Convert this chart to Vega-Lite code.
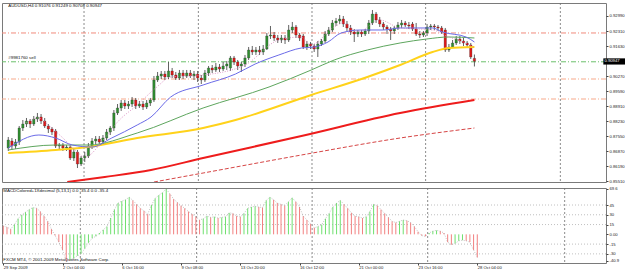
{
"$schema": "https://vega.github.io/schema/vega-lite/v6.json",
"background": "white",
"padding": {"left": 1, "top": 2, "right": 0, "bottom": 0},
"spacing": 1,
"config": {
  "view": {"stroke": "#7a7a7a", "strokeWidth": 1},
  "font": "Liberation Sans",
  "axis": {"labelFont": "Liberation Sans", "labelFontSize": 4.2, "labelColor": "#222", "tickColor": "#444", "tickSize": 2, "grid": false, "domain": false, "labelPadding": 1, "labelOverlap": false},
  "text": {"font": "Liberation Sans", "fontSize": 4.4}
},
"datasets": {
  "candles": [
    {"i":0,"o":0.87023,"h":0.87521,"l":0.86888,"c":0.87385},
    {"i":1,"o":0.87340,"h":0.87475,"l":0.86933,"c":0.87114},
    {"i":2,"o":0.87114,"h":0.87430,"l":0.86978,"c":0.87294},
    {"i":3,"o":0.87294,"h":0.88018,"l":0.87159,"c":0.87927},
    {"i":4,"o":0.87927,"h":0.88289,"l":0.87792,"c":0.88108},
    {"i":5,"o":0.88108,"h":0.88380,"l":0.87972,"c":0.88244},
    {"i":6,"o":0.88244,"h":0.88334,"l":0.87927,"c":0.88108},
    {"i":7,"o":0.88108,"h":0.88470,"l":0.88018,"c":0.88334},
    {"i":8,"o":0.88334,"h":0.88606,"l":0.88199,"c":0.88425},
    {"i":9,"o":0.88425,"h":0.88560,"l":0.88108,"c":0.88244},
    {"i":10,"o":0.88244,"h":0.88380,"l":0.87927,"c":0.88018},
    {"i":11,"o":0.88018,"h":0.88108,"l":0.87701,"c":0.87882},
    {"i":12,"o":0.87882,"h":0.87972,"l":0.87611,"c":0.87746},
    {"i":13,"o":0.87792,"h":0.87882,"l":0.87023,"c":0.87114},
    {"i":14,"o":0.87114,"h":0.87249,"l":0.86978,"c":0.87159},
    {"i":15,"o":0.87159,"h":0.87249,"l":0.86888,"c":0.87023},
    {"i":16,"o":0.87023,"h":0.87159,"l":0.86888,"c":0.87068},
    {"i":17,"o":0.87068,"h":0.87159,"l":0.86481,"c":0.86571},
    {"i":18,"o":0.86571,"h":0.86978,"l":0.86436,"c":0.86842},
    {"i":19,"o":0.86842,"h":0.86933,"l":0.86119,"c":0.86300},
    {"i":20,"o":0.86300,"h":0.86662,"l":0.86210,"c":0.86571},
    {"i":21,"o":0.86571,"h":0.86842,"l":0.86390,"c":0.86662},
    {"i":22,"o":0.86662,"h":0.87249,"l":0.86571,"c":0.87114},
    {"i":23,"o":0.87114,"h":0.87475,"l":0.86978,"c":0.87340},
    {"i":24,"o":0.87340,"h":0.87565,"l":0.87204,"c":0.87430},
    {"i":25,"o":0.87430,"h":0.87565,"l":0.87204,"c":0.87294},
    {"i":26,"o":0.87294,"h":0.87611,"l":0.87159,"c":0.87475},
    {"i":27,"o":0.87475,"h":0.87882,"l":0.87385,"c":0.87746},
    {"i":28,"o":0.87746,"h":0.88018,"l":0.87611,"c":0.87927},
    {"i":29,"o":0.87927,"h":0.88741,"l":0.87792,"c":0.88606},
    {"i":30,"o":0.88606,"h":0.89012,"l":0.88515,"c":0.88832},
    {"i":31,"o":0.88832,"h":0.89193,"l":0.88696,"c":0.89058},
    {"i":32,"o":0.89058,"h":0.89193,"l":0.88786,"c":0.88922},
    {"i":33,"o":0.88922,"h":0.89148,"l":0.88786,"c":0.89012},
    {"i":34,"o":0.89012,"h":0.89329,"l":0.88877,"c":0.89193},
    {"i":35,"o":0.89193,"h":0.89284,"l":0.88786,"c":0.88922},
    {"i":36,"o":0.88922,"h":0.89148,"l":0.88832,"c":0.89012},
    {"i":37,"o":0.89012,"h":0.89148,"l":0.88741,"c":0.88877},
    {"i":38,"o":0.88877,"h":0.89193,"l":0.88786,"c":0.89058},
    {"i":39,"o":0.89058,"h":0.89284,"l":0.88922,"c":0.89193},
    {"i":40,"o":0.89193,"h":0.90278,"l":0.89103,"c":0.90097},
    {"i":41,"o":0.90097,"h":0.90459,"l":0.90007,"c":0.90278},
    {"i":42,"o":0.90278,"h":0.90504,"l":0.90142,"c":0.90368},
    {"i":43,"o":0.90368,"h":0.90504,"l":0.90097,"c":0.90233},
    {"i":44,"o":0.90233,"h":0.90911,"l":0.90142,"c":0.90504},
    {"i":45,"o":0.90504,"h":0.90640,"l":0.90188,"c":0.90323},
    {"i":46,"o":0.90323,"h":0.90459,"l":0.90097,"c":0.90188},
    {"i":47,"o":0.90188,"h":0.90549,"l":0.90097,"c":0.90414},
    {"i":48,"o":0.90414,"h":0.90549,"l":0.90142,"c":0.90278},
    {"i":49,"o":0.90278,"h":0.90549,"l":0.90188,"c":0.90414},
    {"i":50,"o":0.90414,"h":0.90549,"l":0.90188,"c":0.90278},
    {"i":51,"o":0.90278,"h":0.90504,"l":0.90097,"c":0.90368},
    {"i":52,"o":0.90368,"h":0.90504,"l":0.90007,"c":0.90188},
    {"i":53,"o":0.90188,"h":0.90323,"l":0.89916,"c":0.90097},
    {"i":54,"o":0.90097,"h":0.90549,"l":0.90007,"c":0.90414},
    {"i":55,"o":0.90414,"h":0.90730,"l":0.90278,"c":0.90640},
    {"i":56,"o":0.90640,"h":0.90775,"l":0.90414,"c":0.90549},
    {"i":57,"o":0.90549,"h":0.90866,"l":0.90459,"c":0.90685},
    {"i":58,"o":0.90685,"h":0.90820,"l":0.90459,"c":0.90594},
    {"i":59,"o":0.90594,"h":0.90911,"l":0.90504,"c":0.90730},
    {"i":60,"o":0.90730,"h":0.90956,"l":0.90549,"c":0.90820},
    {"i":61,"o":0.90640,"h":0.91182,"l":0.90504,"c":0.91092},
    {"i":62,"o":0.91092,"h":0.91182,"l":0.90775,"c":0.90911},
    {"i":63,"o":0.90911,"h":0.91001,"l":0.90549,"c":0.90730},
    {"i":64,"o":0.90730,"h":0.90911,"l":0.90459,"c":0.90820},
    {"i":65,"o":0.90820,"h":0.91227,"l":0.90685,"c":0.91092},
    {"i":66,"o":0.91092,"h":0.91589,"l":0.91001,"c":0.91453},
    {"i":67,"o":0.91453,"h":0.91634,"l":0.91227,"c":0.91363},
    {"i":68,"o":0.91363,"h":0.91589,"l":0.91227,"c":0.91453},
    {"i":69,"o":0.91453,"h":0.91634,"l":0.91227,"c":0.91363},
    {"i":70,"o":0.91363,"h":0.91679,"l":0.91227,"c":0.91498},
    {"i":71,"o":0.91498,"h":0.92222,"l":0.91453,"c":0.92086},
    {"i":72,"o":0.92086,"h":0.92538,"l":0.91950,"c":0.92131},
    {"i":73,"o":0.92131,"h":0.92267,"l":0.91860,"c":0.91996},
    {"i":74,"o":0.91996,"h":0.92131,"l":0.91770,"c":0.91905},
    {"i":75,"o":0.91905,"h":0.92131,"l":0.91770,"c":0.91996},
    {"i":76,"o":0.91996,"h":0.92131,"l":0.91724,"c":0.91905},
    {"i":77,"o":0.91905,"h":0.92583,"l":0.91815,"c":0.92357},
    {"i":78,"o":0.92357,"h":0.92719,"l":0.92222,"c":0.92493},
    {"i":79,"o":0.92493,"h":0.92583,"l":0.91996,"c":0.92131},
    {"i":80,"o":0.92131,"h":0.92222,"l":0.91860,"c":0.91996},
    {"i":81,"o":0.92086,"h":0.92176,"l":0.91498,"c":0.91589},
    {"i":82,"o":0.91589,"h":0.91860,"l":0.91453,"c":0.91724},
    {"i":83,"o":0.91724,"h":0.91815,"l":0.91498,"c":0.91634},
    {"i":84,"o":0.91634,"h":0.91724,"l":0.91363,"c":0.91498},
    {"i":85,"o":0.91498,"h":0.91860,"l":0.91137,"c":0.91724},
    {"i":86,"o":0.91724,"h":0.91950,"l":0.91634,"c":0.91860},
    {"i":87,"o":0.91860,"h":0.92312,"l":0.91770,"c":0.92176},
    {"i":88,"o":0.92176,"h":0.92493,"l":0.92086,"c":0.92357},
    {"i":89,"o":0.92357,"h":0.92809,"l":0.92267,"c":0.92674},
    {"i":90,"o":0.92674,"h":0.92900,"l":0.92538,"c":0.92764},
    {"i":91,"o":0.92764,"h":0.93035,"l":0.92628,"c":0.92854},
    {"i":92,"o":0.92854,"h":0.92990,"l":0.92493,"c":0.92628},
    {"i":93,"o":0.92628,"h":0.92764,"l":0.92312,"c":0.92448},
    {"i":94,"o":0.92448,"h":0.92583,"l":0.92131,"c":0.92267},
    {"i":95,"o":0.92267,"h":0.92402,"l":0.91815,"c":0.92176},
    {"i":96,"o":0.92176,"h":0.92357,"l":0.92041,"c":0.92267},
    {"i":97,"o":0.92267,"h":0.92357,"l":0.92041,"c":0.92176},
    {"i":98,"o":0.92176,"h":0.92402,"l":0.92086,"c":0.92312},
    {"i":99,"o":0.92312,"h":0.92809,"l":0.92176,"c":0.92674},
    {"i":100,"o":0.92674,"h":0.93261,"l":0.92583,"c":0.93080},
    {"i":101,"o":0.93080,"h":0.93171,"l":0.92674,"c":0.92809},
    {"i":102,"o":0.92809,"h":0.92945,"l":0.92493,"c":0.92628},
    {"i":103,"o":0.92628,"h":0.92719,"l":0.92357,"c":0.92493},
    {"i":104,"o":0.92493,"h":0.92583,"l":0.92176,"c":0.92402},
    {"i":105,"o":0.92402,"h":0.92493,"l":0.91905,"c":0.92312},
    {"i":106,"o":0.92312,"h":0.92538,"l":0.92176,"c":0.92448},
    {"i":107,"o":0.92448,"h":0.92719,"l":0.92357,"c":0.92583},
    {"i":108,"o":0.92583,"h":0.92809,"l":0.92448,"c":0.92674},
    {"i":109,"o":0.92674,"h":0.92764,"l":0.92493,"c":0.92583},
    {"i":110,"o":0.92583,"h":0.92719,"l":0.92402,"c":0.92538},
    {"i":111,"o":0.92628,"h":0.92719,"l":0.92312,"c":0.92402},
    {"i":112,"o":0.92402,"h":0.92674,"l":0.92086,"c":0.92176},
    {"i":113,"o":0.92176,"h":0.92312,"l":0.91996,"c":0.92131},
    {"i":114,"o":0.92131,"h":0.92312,"l":0.92041,"c":0.92222},
    {"i":115,"o":0.92222,"h":0.92628,"l":0.92086,"c":0.92493},
    {"i":116,"o":0.92493,"h":0.92628,"l":0.92357,"c":0.92538},
    {"i":117,"o":0.92538,"h":0.92628,"l":0.92357,"c":0.92493},
    {"i":118,"o":0.92493,"h":0.92583,"l":0.92312,"c":0.92448},
    {"i":119,"o":0.92448,"h":0.92538,"l":0.92176,"c":0.92267},
    {"i":120,"o":0.92357,"h":0.92448,"l":0.91363,"c":0.91453},
    {"i":121,"o":0.91453,"h":0.91724,"l":0.91363,"c":0.91589},
    {"i":122,"o":0.91589,"h":0.91905,"l":0.91544,"c":0.91770},
    {"i":123,"o":0.91770,"h":0.92086,"l":0.91679,"c":0.91950},
    {"i":124,"o":0.91950,"h":0.92086,"l":0.91724,"c":0.91860},
    {"i":125,"o":0.91860,"h":0.91996,"l":0.91634,"c":0.91770},
    {"i":126,"o":0.91770,"h":0.91860,"l":0.91544,"c":0.91679},
    {"i":127,"o":0.91679,"h":0.91770,"l":0.91046,"c":0.91137},
    {"i":128,"o":0.91076,"h":0.91249,"l":0.90708,"c":0.90947}
  ],
  "ma": [
    {"s":"blue","i":0,"v":0.87023},{"s":"blue","i":8.4,"v":0.87611},{"s":"blue","i":13,"v":0.87475},{"s":"blue","i":17.6,"v":0.87159},{"s":"blue","i":23,"v":0.87068},{"s":"blue","i":28.4,"v":0.87475},{"s":"blue","i":35.4,"v":0.88063},{"s":"blue","i":39.2,"v":0.88425},{"s":"blue","i":44.6,"v":0.89329},{"s":"blue","i":53.5,"v":0.89871},{"s":"blue","i":62.4,"v":0.90368},{"s":"blue","i":67.8,"v":0.90820},{"s":"blue","i":74.3,"v":0.91227},{"s":"blue","i":80.5,"v":0.91544},{"s":"blue","i":84,"v":0.91589},{"s":"blue","i":87.8,"v":0.91815},{"s":"blue","i":91.4,"v":0.92222},{"s":"blue","i":96.8,"v":0.92357},{"s":"blue","i":103,"v":0.92357},{"s":"blue","i":107.6,"v":0.92448},{"s":"blue","i":116.5,"v":0.92448},{"s":"blue","i":119.2,"v":0.92267},{"s":"blue","i":125.7,"v":0.92041},{"s":"blue","i":128,"v":0.91815},
    {"s":"pink","i":4.9,"v":0.88154},{"s":"pink","i":8.4,"v":0.88380},{"s":"pink","i":11,"v":0.88063},{"s":"pink","i":15,"v":0.87475},{"s":"pink","i":18.4,"v":0.86933},{"s":"pink","i":21,"v":0.86617},{"s":"pink","i":26.5,"v":0.87475},{"s":"pink","i":30,"v":0.88199},{"s":"pink","i":35.4,"v":0.88967},{"s":"pink","i":40.8,"v":0.89781},{"s":"pink","i":44.6,"v":0.90233},{"s":"pink","i":53.5,"v":0.90323},{"s":"pink","i":65,"v":0.90775},{"s":"pink","i":74.3,"v":0.91905},{"s":"pink","i":80.5,"v":0.92041},{"s":"pink","i":83,"v":0.91679},{"s":"pink","i":89.5,"v":0.92493},{"s":"pink","i":92,"v":0.92674},{"s":"pink","i":96,"v":0.92267},{"s":"pink","i":102,"v":0.92809},{"s":"pink","i":107.6,"v":0.92448},{"s":"pink","i":116.5,"v":0.92357},{"s":"pink","i":121,"v":0.92041},{"s":"pink","i":125,"v":0.91815},{"s":"pink","i":128,"v":0.91544},
    {"s":"green","i":0,"v":0.86933},{"s":"green","i":13,"v":0.87159},{"s":"green","i":22,"v":0.87159},{"s":"green","i":35.4,"v":0.87701},{"s":"green","i":53.5,"v":0.88832},{"s":"green","i":71.6,"v":0.89781},{"s":"green","i":83.2,"v":0.90549},{"s":"green","i":89.5,"v":0.91001},{"s":"green","i":98.6,"v":0.91453},{"s":"green","i":107.6,"v":0.91770},{"s":"green","i":114.9,"v":0.91950},{"s":"green","i":121,"v":0.92041},{"s":"green","i":128,"v":0.91996},
    {"s":"yellow","i":0,"v":0.86797},{"s":"yellow","i":13,"v":0.86933},{"s":"yellow","i":22,"v":0.87068},{"s":"yellow","i":35.4,"v":0.87475},{"s":"yellow","i":53.5,"v":0.87927},{"s":"yellow","i":62.4,"v":0.88289},{"s":"yellow","i":83.2,"v":0.89419},{"s":"yellow","i":98.6,"v":0.90233},{"s":"yellow","i":107.6,"v":0.90775},{"s":"yellow","i":116.5,"v":0.91363},{"s":"yellow","i":121,"v":0.91544},{"s":"yellow","i":128,"v":0.91589},
    {"s":"red","i":16.2,"v":0.85487},{"s":"red","i":26.5,"v":0.85713},{"s":"red","i":39.2,"v":0.86029},{"s":"red","i":53.5,"v":0.86571},{"s":"red","i":80.5,"v":0.87566},{"s":"red","i":107.6,"v":0.88605},{"s":"red","i":128,"v":0.89193},
    {"s":"reddash","i":40,"v":0.85487},{"s":"reddash","i":53.5,"v":0.85893},{"s":"reddash","i":80.5,"v":0.86707},{"s":"reddash","i":107.6,"v":0.87475},{"s":"reddash","i":128,"v":0.87927}
  ],
  "levels": [
    {"kind":"red","p":0.92222},
    {"kind":"sell","p":0.90920},
    {"kind":"orange","p":0.90142},
    {"kind":"orange","p":0.89238}
  ],
  "seps": [{"i":20.8},{"i":52.2},{"i":83.4},{"i":114.6},{"i":151.6}],
  "macdgrid": [{"v":45},{"v":30},{"v":15},{"v":-15},{"v":-30}],
  "macd": [
    {"i":0,"v":13,"d":"down"},{"i":1,"v":11,"d":"down"},{"i":2,"v":8,"d":"down"},{"i":3,"v":15,"d":"up"},{"i":4,"v":24,"d":"up"},{"i":5,"v":30,"d":"up"},{"i":6,"v":34,"d":"up"},{"i":7,"v":38,"d":"up"},{"i":8,"v":41,"d":"up"},{"i":9,"v":40,"d":"down"},
    {"i":10,"v":35,"d":"down"},{"i":11,"v":28,"d":"down"},{"i":12,"v":20,"d":"down"},{"i":13,"v":8,"d":"down"},{"i":14,"v":-2,"d":"down"},{"i":15,"v":-12,"d":"down"},{"i":16,"v":-24,"d":"down"},{"i":17,"v":-40.9,"d":"down"},{"i":18,"v":-39,"d":"up"},{"i":19,"v":-37,"d":"up"},
    {"i":20,"v":-33,"d":"up"},{"i":21,"v":-30,"d":"up"},{"i":22,"v":-22,"d":"up"},{"i":23,"v":-13,"d":"up"},{"i":24,"v":-6,"d":"up"},{"i":25,"v":-3,"d":"up"},{"i":26,"v":2,"d":"up"},{"i":27,"v":7,"d":"up"},{"i":28,"v":12,"d":"up"},{"i":29,"v":25,"d":"up"},
    {"i":30,"v":38,"d":"up"},{"i":31,"v":48,"d":"up"},{"i":32,"v":51,"d":"up"},{"i":33,"v":53,"d":"up"},{"i":34,"v":57,"d":"up"},{"i":35,"v":52,"d":"down"},{"i":36,"v":46,"d":"down"},{"i":37,"v":40,"d":"down"},{"i":38,"v":36,"d":"down"},{"i":39,"v":31,"d":"down"},
    {"i":40,"v":45,"d":"up"},{"i":41,"v":55,"d":"up"},{"i":42,"v":60,"d":"up"},{"i":43,"v":64,"d":"up"},{"i":44,"v":69.6,"d":"up"},{"i":45,"v":62,"d":"down"},{"i":46,"v":54,"d":"down"},{"i":47,"v":49,"d":"down"},{"i":48,"v":44,"d":"down"},{"i":49,"v":40,"d":"down"},
    {"i":50,"v":35,"d":"down"},{"i":51,"v":31,"d":"down"},{"i":52,"v":27,"d":"down"},{"i":53,"v":22,"d":"down"},{"i":54,"v":24,"d":"up"},{"i":55,"v":28,"d":"up"},{"i":56,"v":26,"d":"down"},{"i":57,"v":27,"d":"up"},{"i":58,"v":25,"d":"down"},{"i":59,"v":26,"d":"up"},
    {"i":60,"v":27,"d":"up"},{"i":61,"v":33,"d":"up"},{"i":62,"v":32,"d":"down"},{"i":63,"v":28,"d":"down"},{"i":64,"v":27,"d":"down"},{"i":65,"v":32,"d":"up"},{"i":66,"v":40,"d":"up"},{"i":67,"v":42,"d":"up"},{"i":68,"v":43,"d":"up"},{"i":69,"v":42,"d":"down"},
    {"i":70,"v":41,"d":"down"},{"i":71,"v":52,"d":"up"},{"i":72,"v":57,"d":"up"},{"i":73,"v":53,"d":"down"},{"i":74,"v":48,"d":"down"},{"i":75,"v":46,"d":"down"},{"i":76,"v":44,"d":"down"},{"i":77,"v":50,"d":"up"},{"i":78,"v":56,"d":"up"},{"i":79,"v":50,"d":"down"},
    {"i":80,"v":42,"d":"down"},{"i":81,"v":28,"d":"down"},{"i":82,"v":22,"d":"down"},{"i":83,"v":16,"d":"down"},{"i":84,"v":10,"d":"down"},{"i":85,"v":12,"d":"up"},{"i":86,"v":15,"d":"up"},{"i":87,"v":24,"d":"up"},{"i":88,"v":32,"d":"up"},{"i":89,"v":42,"d":"up"},
    {"i":90,"v":48,"d":"up"},{"i":91,"v":52,"d":"up"},{"i":92,"v":46,"d":"down"},{"i":93,"v":40,"d":"down"},{"i":94,"v":33,"d":"down"},{"i":95,"v":28,"d":"down"},{"i":96,"v":27,"d":"down"},{"i":97,"v":25,"d":"down"},{"i":98,"v":27,"d":"up"},{"i":99,"v":35,"d":"up"},
    {"i":100,"v":46,"d":"up"},{"i":101,"v":44,"d":"down"},{"i":102,"v":38,"d":"down"},{"i":103,"v":32,"d":"down"},{"i":104,"v":26,"d":"down"},{"i":105,"v":20,"d":"down"},{"i":106,"v":18,"d":"down"},{"i":107,"v":20,"d":"up"},{"i":108,"v":22,"d":"up"},{"i":109,"v":21,"d":"down"},
    {"i":110,"v":18,"d":"down"},{"i":111,"v":12,"d":"down"},{"i":112,"v":4,"d":"down"},{"i":113,"v":-2,"d":"down"},{"i":114,"v":-3,"d":"down"},{"i":115,"v":2,"d":"up"},{"i":116,"v":5,"d":"up"},{"i":117,"v":6,"d":"up"},{"i":118,"v":5,"d":"down"},{"i":119,"v":2,"d":"down"},
    {"i":120,"v":-12,"d":"down"},{"i":121,"v":-16,"d":"down"},{"i":122,"v":-14,"d":"up"},{"i":123,"v":-10,"d":"up"},{"i":124,"v":-9,"d":"up"},{"i":125,"v":-10,"d":"down"},{"i":126,"v":-12,"d":"down"},{"i":127,"v":-24,"d":"down"},{"i":128,"v":-35.4,"d":"down"}
  ]
},
"vconcat": [
  {
    "width": 604, "height": 179,
    "layer": [
      {
        "data": {"name": "seps"},
        "mark": {"type": "rule", "color": "#6e6e6e", "strokeWidth": 0.8, "strokeDash": [2, 2]},
        "encoding": {"x": {"field": "i", "type": "quantitative", "scale": {"domain": [-0.35, 162.76], "nice": false, "zero": false}, "axis": null}}
      },
      {
        "data": {"name": "levels"},
        "mark": {"type": "rule", "strokeWidth": 1, "strokeDash": [5, 2, 1, 2]},
        "encoding": {
          "y": {"field": "p", "type": "quantitative", "scale": {"domain": [0.85487, 0.93577], "nice": false, "zero": false},
                "axis": {"orient": "right", "title": null, "values": [0.9299, 0.9231, 0.9163, 0.9027, 0.8959, 0.8891, 0.8823, 0.8755, 0.8687, 0.8619, 0.8551], "format": ".5f"}},
          "color": {"condition": [{"test": "datum.kind == 'sell'", "value": "#6cc06c"}, {"test": "datum.kind == 'red'", "value": "#f08a7c"}], "value": "#f7a98a"}
        }
      },
      {
        "data": {"name": "candles"},
        "mark": {"type": "rule", "color": "#3a3a3a", "strokeWidth": 0.8},
        "encoding": {
          "x": {"field": "i", "type": "quantitative", "axis": null},
          "y": {"field": "l", "type": "quantitative", "axis": {"orient": "right", "title": null, "values": [0.9299, 0.9231, 0.9163, 0.9027, 0.8959, 0.8891, 0.8823, 0.8755, 0.8687, 0.8619, 0.8551], "format": ".5f"}},
          "y2": {"field": "h"}
        }
      },
      {
        "data": {"name": "candles"},
        "mark": {"type": "bar", "size": 2.4, "stroke": "#333", "strokeWidth": 0.3},
        "encoding": {
          "x": {"field": "i", "type": "quantitative", "axis": null},
          "y": {"field": "o", "type": "quantitative", "axis": {"orient": "right", "title": null, "values": [0.9299, 0.9231, 0.9163, 0.9027, 0.8959, 0.8891, 0.8823, 0.8755, 0.8687, 0.8619, 0.8551], "format": ".5f"}},
          "y2": {"field": "c"},
          "color": {"condition": {"test": "datum.c >= datum.o", "value": "#2f8f2f"}, "value": "#e01818"}
        }
      },
      {
        "data": {"name": "ma"},
        "transform": [{"filter": "datum.s == 'red'"}],
        "mark": {"type": "line", "color": "#ee1c1c", "strokeWidth": 2, "interpolate": "monotone", "clip": true},
        "encoding": {"x": {"field": "i", "type": "quantitative", "axis": null}, "y": {"field": "v", "type": "quantitative", "axis": {"orient": "right", "title": null, "values": [0.9299, 0.9231, 0.9163, 0.9027, 0.8959, 0.8891, 0.8823, 0.8755, 0.8687, 0.8619, 0.8551], "format": ".5f"}}}
      },
      {
        "data": {"name": "ma"},
        "transform": [{"filter": "datum.s == 'reddash'"}],
        "mark": {"type": "line", "color": "#d64545", "strokeWidth": 1, "strokeDash": [4, 2], "interpolate": "monotone", "clip": true},
        "encoding": {"x": {"field": "i", "type": "quantitative", "axis": null}, "y": {"field": "v", "type": "quantitative", "axis": {"orient": "right", "title": null, "values": [0.9299, 0.9231, 0.9163, 0.9027, 0.8959, 0.8891, 0.8823, 0.8755, 0.8687, 0.8619, 0.8551], "format": ".5f"}}}
      },
      {
        "data": {"name": "ma"},
        "transform": [{"filter": "datum.s == 'yellow'"}],
        "mark": {"type": "line", "color": "#ffd21a", "strokeWidth": 2, "interpolate": "monotone"},
        "encoding": {"x": {"field": "i", "type": "quantitative", "axis": null}, "y": {"field": "v", "type": "quantitative", "axis": {"orient": "right", "title": null, "values": [0.9299, 0.9231, 0.9163, 0.9027, 0.8959, 0.8891, 0.8823, 0.8755, 0.8687, 0.8619, 0.8551], "format": ".5f"}}}
      },
      {
        "data": {"name": "ma"},
        "transform": [{"filter": "datum.s == 'green'"}],
        "mark": {"type": "line", "color": "#5ea65e", "strokeWidth": 1, "interpolate": "monotone"},
        "encoding": {"x": {"field": "i", "type": "quantitative", "axis": null}, "y": {"field": "v", "type": "quantitative", "axis": {"orient": "right", "title": null, "values": [0.9299, 0.9231, 0.9163, 0.9027, 0.8959, 0.8891, 0.8823, 0.8755, 0.8687, 0.8619, 0.8551], "format": ".5f"}}}
      },
      {
        "data": {"name": "ma"},
        "transform": [{"filter": "datum.s == 'blue'"}],
        "mark": {"type": "line", "color": "#6b6be8", "strokeWidth": 1, "interpolate": "monotone"},
        "encoding": {"x": {"field": "i", "type": "quantitative", "axis": null}, "y": {"field": "v", "type": "quantitative", "axis": {"orient": "right", "title": null, "values": [0.9299, 0.9231, 0.9163, 0.9027, 0.8959, 0.8891, 0.8823, 0.8755, 0.8687, 0.8619, 0.8551], "format": ".5f"}}}
      },
      {
        "data": {"name": "ma"},
        "transform": [{"filter": "datum.s == 'pink'"}],
        "mark": {"type": "line", "color": "#d47fb8", "strokeWidth": 0.8, "strokeDash": [1, 1.5], "interpolate": "monotone"},
        "encoding": {"x": {"field": "i", "type": "quantitative", "axis": null}, "y": {"field": "v", "type": "quantitative", "axis": {"orient": "right", "title": null, "values": [0.9299, 0.9231, 0.9163, 0.9027, 0.8959, 0.8891, 0.8823, 0.8755, 0.8687, 0.8619, 0.8551], "format": ".5f"}}}
      },
      {
        "data": {"values": [{"t": "AUDUSD,H4  0.91076 0.91249 0.90708 0.90947", "x": 0.0, "y": 0.93442}, {"t": "#9981760 sell", "x": 0.0, "y": 0.91110}]},
        "mark": {"type": "text", "align": "left", "baseline": "middle", "color": "#111"},
        "encoding": {"x": {"field": "x", "type": "quantitative", "axis": null}, "y": {"field": "y", "type": "quantitative", "axis": {"orient": "right", "title": null, "values": [0.9299, 0.9231, 0.9163, 0.9027, 0.8959, 0.8891, 0.8823, 0.8755, 0.8687, 0.8619, 0.8551], "format": ".5f"}}, "text": {"field": "t"}}
      },
      {
        "data": {"values": [{"x": 163.4, "x2": 170, "y": 0.91075, "y2": 0.90795}]},
        "mark": {"type": "rect", "color": "#000"},
        "encoding": {"x": {"field": "x", "type": "quantitative", "axis": null}, "x2": {"field": "x2"}, "y": {"field": "y", "type": "quantitative", "axis": {"orient": "right", "title": null, "values": [0.9299, 0.9231, 0.9163, 0.9027, 0.8959, 0.8891, 0.8823, 0.8755, 0.8687, 0.8619, 0.8551], "format": ".5f"}}, "y2": {"field": "y2"}}
      },
      {
        "data": {"values": [{"t": "0.90947", "x": 163.7, "y": 0.90935}]},
        "mark": {"type": "text", "align": "left", "baseline": "middle", "color": "#fff", "fontSize": 4.2},
        "encoding": {"x": {"field": "x", "type": "quantitative", "axis": null}, "y": {"field": "y", "type": "quantitative", "axis": {"orient": "right", "title": null, "values": [0.9299, 0.9231, 0.9163, 0.9027, 0.8959, 0.8891, 0.8823, 0.8755, 0.8687, 0.8619, 0.8551], "format": ".5f"}}, "text": {"field": "t"}}
      }
    ]
  },
  {
    "width": 604, "height": 75,
    "layer": [
      {
        "data": {"name": "seps"},
        "mark": {"type": "rule", "color": "#6e6e6e", "strokeWidth": 0.8, "strokeDash": [2, 2]},
        "encoding": {"x": {"field": "i", "type": "quantitative", "scale": {"domain": [-0.35, 162.76], "nice": false, "zero": false},
          "axis": {"orient": "bottom", "title": null, "values": [0, 8, 16, 24, 32, 40, 48, 56, 64, 72, 80, 88, 96, 104, 112, 120, 128], "labelAlign": "left", "labelPadding": 0, "labelBaseline": "top",
                   "labelExpr": "['29 Sep 2009','30 Sep 20:00','2 Oct 04:00','5 Oct 08:00','6 Oct 16:00','8 Oct 00:00','9 Oct 08:00','12 Oct 12:00','13 Oct 20:00','15 Oct 04:00','16 Oct 12:00','19 Oct 16:00','21 Oct 00:00','22 Oct 08:00','23 Oct 16:00','26 Oct 20:00','28 Oct 04:00'][round(datum.value / 8)]"}}}
      },
      {
        "data": {"name": "macdgrid"},
        "mark": {"type": "rule", "color": "#b0b0b0", "strokeWidth": 0.8, "strokeDash": [1, 2]},
        "encoding": {"y": {"field": "v", "type": "quantitative", "scale": {"domain": [-44, 71.1], "nice": false, "zero": false},
          "axis": {"orient": "right", "title": null, "values": [69.6, 45, 30, 15, 0, -15, -30, -40.9], "labelExpr": "datum.value == 0 ? '0.00' : '' + datum.value"}}}
      },
      {
        "data": {"name": "macd"},
        "mark": {"type": "rule", "strokeWidth": 1},
        "encoding": {
          "x": {"field": "i", "type": "quantitative", "title": null},
          "y": {"field": "v", "type": "quantitative", "axis": {"orient": "right", "title": null, "values": [69.6, 45, 30, 15, 0, -15, -30, -40.9], "labelExpr": "datum.value == 0 ? '0.00' : '' + datum.value"}},
          "y2": {"datum": 0},
          "color": {"condition": {"test": "datum.d == 'up'", "value": "#6fe06f"}, "value": "#f28080"}
        }
      },
      {
        "data": {"name": "macd"},
        "mark": {"type": "line", "color": "#9a9a9a", "strokeWidth": 0.6, "strokeDash": [1, 1.5]},
        "encoding": {"x": {"field": "i", "type": "quantitative", "title": null}, "y": {"field": "v", "type": "quantitative", "axis": {"orient": "right", "title": null, "values": [69.6, 45, 30, 15, 0, -15, -30, -40.9], "labelExpr": "datum.value == 0 ? '0.00' : '' + datum.value"}}}
      },
      {
        "data": {"values": [{"t": "MACDColored+1Xdecimal (5,13,1) 0.0 -35.4 0.0 -35.4", "x": 0.0, "y": 66}, {"t": "FXCM MT4, © 2001-2009 MetaQuotes Software Corp.", "x": 0.0, "y": -39.5}]},
        "mark": {"type": "text", "align": "left", "baseline": "middle", "color": "#111"},
        "encoding": {"x": {"field": "x", "type": "quantitative", "title": null}, "y": {"field": "y", "type": "quantitative", "axis": {"orient": "right", "title": null, "values": [69.6, 45, 30, 15, 0, -15, -30, -40.9], "labelExpr": "datum.value == 0 ? '0.00' : '' + datum.value"}}, "text": {"field": "t"}}
      }
    ]
  }
]
}
